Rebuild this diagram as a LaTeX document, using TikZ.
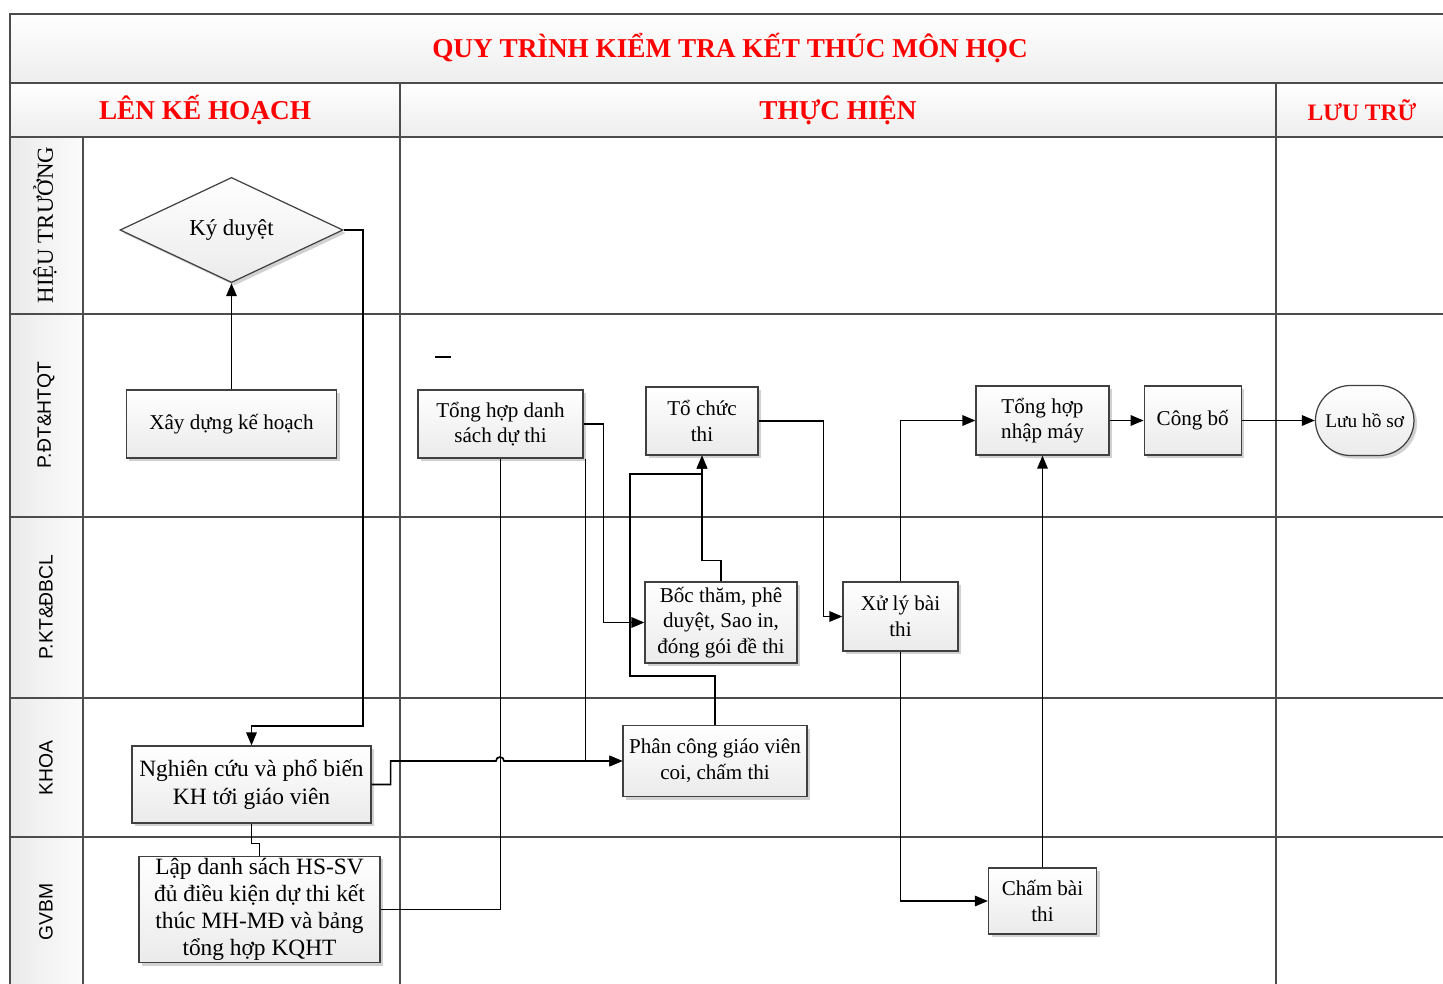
\documentclass[tikz,border=0pt]{standalone}
\usepackage{fontspec}
\setmainfont{Liberation Serif}
\setsansfont{Liberation Sans}
\usetikzlibrary{shapes.geometric, shapes.misc, arrows.meta, positioning, shadows}
\tikzstyle{box} = [rectangle, draw=black!75, line width=0.7pt, top color=white, bottom color=gray!16, drop shadow={shadow xshift=0.6mm, shadow yshift=-0.6mm, fill=black!40, opacity=0.45}, align=center, inner sep=1pt, font=\fontsize{12}{14.5}\selectfont]
\tikzstyle{bigbox} = [box, font=\fontsize{13.3}{15.5}\selectfont]
\tikzstyle{decision} = [box, diamond, inner sep=0pt, font=\fontsize{13}{15}\selectfont]
\tikzstyle{terminal} = [box, rounded rectangle, font=\fontsize{11}{13}\selectfont]
\tikzstyle{arrow} = [line width=0.95pt, ->, >={Triangle[length=2.6mm,width=2.1mm]}]
\tikzstyle{link} = [line width=0.95pt]
\tikzstyle{frame} = [draw=black!70, line width=1.1pt]
\tikzstyle{colhead} = [text=red, font=\fontsize{15.5}{18}\selectfont\bfseries]
\tikzstyle{lanelabel} = [rotate=90, font=\sffamily\fontsize{11}{13}\selectfont]

\begin{document}
\begin{tikzpicture}[x=0.2mm, y=-0.2mm]
  \useasboundingbox (0,0) rectangle (1443,984);

  % title and header bands
  \shade[top color=white, bottom color=gray!14] (10,14) rectangle (1443,83);
  \shade[top color=white, bottom color=gray!14] (10,83) rectangle (1443,137);
  \shade[left color=gray!16, right color=gray!3] (10,137) rectangle (83,984);

  % lanes
  \draw[frame] (10,984) -- (10,14) -- (1443,14);
  \foreach \y in {83,137,314,517,698,837}
    \draw[frame] (10,\y) -- (1443,\y);
  \draw[frame] (83,137) -- (83,984);
  \foreach \x in {400,1276}
    \draw[frame] (\x,83) -- (\x,984);

  \node[colhead] (title) at (730,48) {QUY TRÌNH KIỂM TRA KẾT THÚC MÔN HỌC};
  \node[colhead] (plan) at (205,110) {LÊN KẾ HOẠCH};
  \node[colhead] (run) at (838,110) {THỰC HIỆN};
  \node[colhead, font=\fontsize{13.4}{16}\selectfont\bfseries] (store) at (1362,110) {LƯU TRỮ};

  \node[lanelabel, font=\fontsize{13}{15}\selectfont] (hieutruong) at (45,225) {HIỆU TRƯỞNG};
  \node[lanelabel] (pdt) at (46,415) {P.ĐT\&HTQT};
  \node[lanelabel] (pkt) at (46,607) {P.KT\&ĐBCL};
  \node[lanelabel] (khoa) at (46,768) {KHOA};
  \node[lanelabel] (gvbm) at (46,912) {GVBM};

  % steps
  \node[decision, minimum width=44.6mm, minimum height=19.6mm] (kyduyet) at (231.5,230) {Ký duyệt};
  \node[box, minimum width=42mm, minimum height=13.6mm] (xaydung) at (231.5,424) {Xây dựng kế hoạch};
  \node[bigbox, minimum width=47.8mm, minimum height=15.4mm] (nghiencuu) at (251.5,784.5) {Nghiên cứu và phổ biến\\KH tới giáo viên};
  \node[bigbox, minimum width=48.2mm, minimum height=21mm] (lapds) at (259.5,909.5) {Lập danh sách HS-SV\\đủ điều kiện dự thi kết\\thúc MH-MĐ và bảng\\tổng hợp KQHT};
  \node[box, minimum width=33mm, minimum height=13.6mm] (tonghopds) at (500.5,424) {Tổng hợp danh\\sách dự thi};
  \node[box, minimum width=22.4mm, minimum height=13.6mm] (tochuc) at (702,421) {Tổ chức\\thi};
  \node[box, minimum width=30.4mm, minimum height=16.2mm] (boctham) at (721,622.5) {Bốc thăm, phê\\duyệt, Sao in,\\đóng gói đề thi};
  \node[box, minimum width=36.8mm, minimum height=14.2mm] (phancong) at (715,761) {Phân công giáo viên\\coi, chấm thi};
  \node[box, minimum width=23mm, minimum height=13.8mm] (xuly) at (900.5,616.5) {Xử lý bài\\thi};
  \node[box, minimum width=26.6mm, minimum height=13.8mm] (nhapmay) at (1042.5,420.5) {Tổng hợp\\nhập máy};
  \node[box, minimum width=21.6mm, minimum height=13.2mm] (chambai) at (1042.5,901) {Chấm bài\\thi};
  \node[box, minimum width=19.4mm, minimum height=13.8mm, right=6.8mm of nhapmay] (congbo) {Công bố};
  \node[terminal, minimum width=20.4mm, minimum height=14mm, right=14.6mm of congbo] (luuhs) {Lưu hồ sơ};

  \draw[link] (435,357) -- (451,357);

  % flow
  \draw[arrow] (xaydung) -- (kyduyet);
  \draw[arrow] (kyduyet.east) -| (363,726) -| (nghiencuu.north);
  \draw[link] (nghiencuu.south) -- ++(0,20) -| (lapds.north);
  \draw[arrow] (nghiencuu.east) -- ++(19,0) |- (496,761) arc[start angle=180, end angle=0, radius=0.8mm] -- (phancong.west);
  \draw[link] (lapds.east) -| (tonghopds.south);
  \draw[arrow] (tonghopds.east) -- ++(20,0) |- (boctham.west);
  \draw[arrow] (tonghopds.south east) ++(2,0) |- (phancong.west);
  \draw[arrow] (phancong.north) -- ++(0,-49) -| (630,474) -| (tochuc.south);
  \draw[arrow] (boctham.north) -- ++(0,-21) -| (tochuc.south);
  \draw[arrow] (tochuc.east) -- ++(65,0) |- (xuly.west);
  \draw[arrow] (xuly.north) |- (nhapmay.west);
  \draw[arrow] (xuly.south) |- (chambai.west);
  \draw[arrow] (chambai) -- (nhapmay);
  \draw[arrow] (nhapmay) -- (congbo);
  \draw[arrow] (congbo) -- (luuhs);
\end{tikzpicture}
\end{document}
